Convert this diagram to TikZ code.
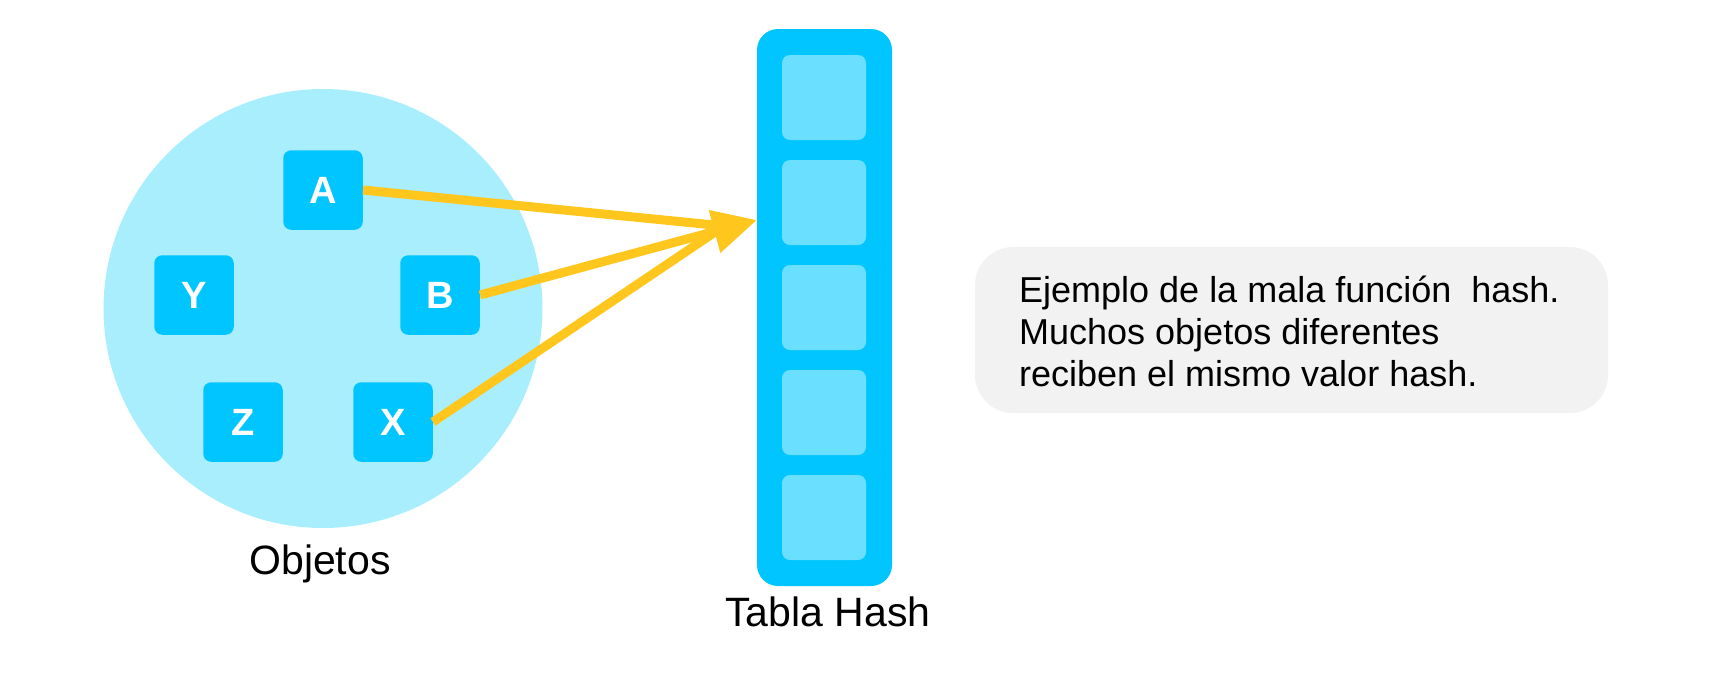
\documentclass[tikz,border=0pt]{standalone}
\usepackage{fontspec}
\setmainfont{Liberation Sans}
\usetikzlibrary{arrows.meta}
\definecolor{circc}{HTML}{A9EEFD}
\definecolor{cyanb}{HTML}{00C5FF}
\definecolor{cellc}{HTML}{6ADFFF}
\definecolor{arrowc}{HTML}{FFC61E}
\definecolor{notegray}{HTML}{F2F2F2}
\tikzset{
  objbox/.style={rectangle, rounded corners=8pt, fill=cyanb, minimum size=79.5pt, inner sep=0pt, text=white, font=\bfseries\fontsize{38}{40}\selectfont},
  cellbox/.style={rectangle, rounded corners=8pt, fill=cellc, minimum width=84pt, minimum height=85pt, inner sep=0pt},
  link/.style={draw=arrowc, line width=9pt},
  lbl/.style={anchor=base, inner sep=0pt, font=\fontsize{41}{49}\selectfont}
}
\begin{document}
\begin{tikzpicture}[x=1pt,y=-1pt]
\useasboundingbox (0,0) rectangle (1725,673);
% objects
\node[circle, fill=circc, minimum size=439pt, inner sep=0pt] (obj) at (323,308.5) {};
\node[objbox] (A) at (323,190) {A};
\node[objbox] (Y) at (194,295) {Y};
\node[objbox] (B) at (440,295) {B};
\node[objbox] (Z) at (243,422) {Z};
\node[objbox] (X) at (393,422) {X};
\node[lbl] (objlbl) at (320,574) {Objetos};
% hash table
\node[rectangle, rounded corners=21pt, fill=cyanb, minimum width=135pt, minimum height=557pt, inner sep=0pt] (table) at (824.5,307.5) {};
\node[cellbox] (c1) at (824,97.5) {};
\node[cellbox] (c2) at (824,202.5) {};
\node[cellbox] (c3) at (824,307.5) {};
\node[cellbox] (c4) at (824,412.5) {};
\node[cellbox] (c5) at (824,517.5) {};
\node[lbl] (tbllbl) at (828,626) {Tabla Hash};
% connectors
\coordinate (tip) at (757,220);
\coordinate (conv) at (724,226);
\draw[link] (A.east) -- (conv);
\draw[link] (X.east) -- (conv);
\draw[link, -{Triangle[length=44pt,width=42pt]}] (B.east) -- (tip);
% note
\node[rectangle, rounded corners=38pt, fill=notegray, minimum width=633pt, minimum height=166pt, inner sep=0pt] (note) at (1291.5,330) {};
\node[anchor=west, align=left, inner sep=0pt, font=\fontsize{36}{42}\selectfont] (notetext) at (1019,331) {Ejemplo de la mala función~ hash.\\Muchos objetos diferentes\\reciben el mismo valor hash.};
\end{tikzpicture}
\end{document}
